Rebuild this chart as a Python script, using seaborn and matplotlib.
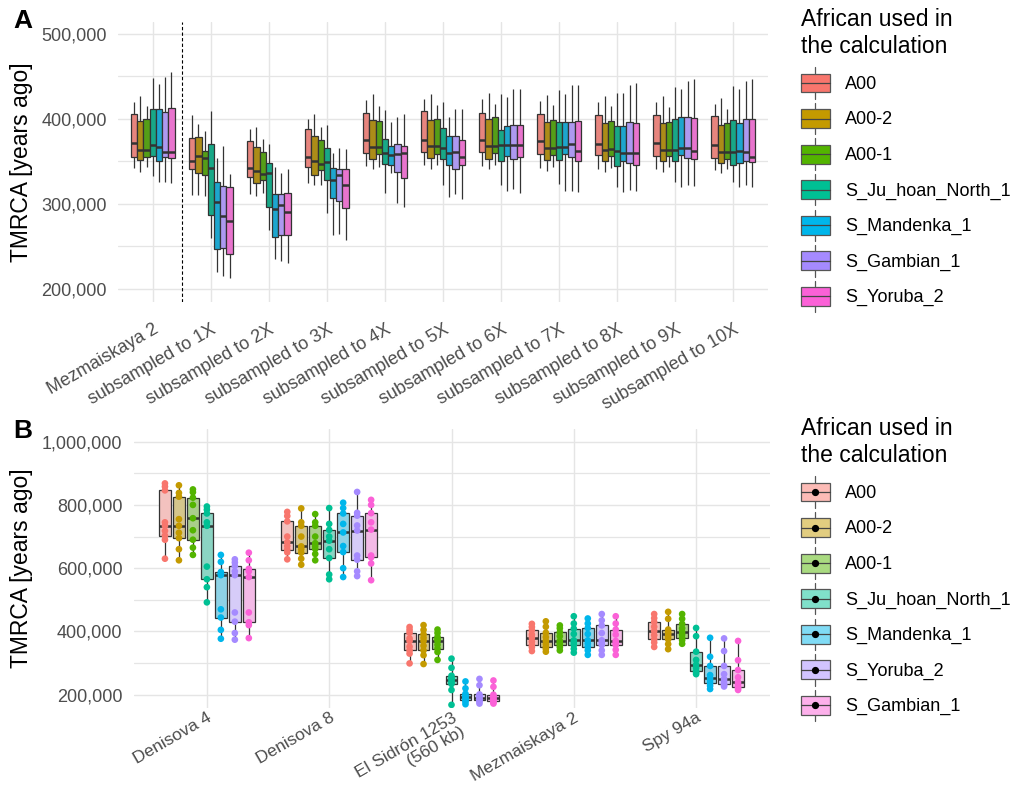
import numpy as np
import pandas as pd
import matplotlib
matplotlib.use("Agg")
import matplotlib.pyplot as plt
import seaborn as sns
from matplotlib.ticker import FuncFormatter, MultipleLocator
from matplotlib.patches import Rectangle, Patch
from matplotlib.lines import Line2D
from matplotlib.legend_handler import HandlerBase
import matplotlib.colors as mcolors

# ---------------- data (thousands of years) ----------------
colors = ["#F8766D", "#C49A00", "#53B400", "#00C094", "#00B6EB", "#A58AFF", "#FB61D7"]

africans_A = ["A00", "A00-2", "A00-1", "S_Ju_hoan_North_1", "S_Mandenka_1", "S_Gambian_1", "S_Yoruba_2"]
africans_B = ["A00", "A00-2", "A00-1", "S_Ju_hoan_North_1", "S_Mandenka_1", "S_Yoruba_2", "S_Gambian_1"]

samples_A = ["Mezmaiskaya 2", "subsampled to 1X", "subsampled to 2X", "subsampled to 3X",
             "subsampled to 4X", "subsampled to 5X", "subsampled to 6X", "subsampled to 7X",
             "subsampled to 8X", "subsampled to 9X", "subsampled to 10X"]
samples_B = ["Denisova 4", "Denisova 8", "El Sidrón 1253\n(560 kb)", "Mezmaiskaya 2", "Spy 94a"]

# Panel A: per sample, per African: [whisker low, Q1, median, Q3, whisker high]
A_mez2 = [[341.6, 355.3, 371.8, 405.1, 420.0], [337.3, 351.0, 362.7, 396.9, 427.1],
          [342.7, 354.9, 362.7, 399.2, 414.9], [332.9, 356.1, 369.0, 411.0, 448.2],
          [325.9, 349.8, 367.1, 411.8, 440.4], [325.9, 354.5, 360.8, 407.5, 448.6],
          [324.7, 353.7, 361.2, 412.5, 454.9]]
A_1x = [[310.2, 340.4, 350.6, 377.6, 404.3], [310.2, 336.5, 356.1, 378.8, 393.7],
        [309.0, 333.3, 353.3, 362.0, 385.9], [260.0, 286.7, 342.4, 370.2, 409.0],
        [220.0, 246.3, 302.4, 325.1, 353.3], [214.9, 247.5, 285.5, 321.2, 368.2],
        [212.5, 240.4, 280.0, 320.0, 334.5]]
A_2x = [[311.0, 331.0, 342.0, 373.3, 387.8], [308.6, 324.3, 338.0, 367.1, 390.2],
        [312.9, 327.5, 334.9, 361.2, 376.5], [269.0, 296.5, 336.5, 348.2, 369.8],
        [234.5, 261.2, 293.7, 311.0, 343.1], [232.9, 262.7, 298.4, 311.0, 336.5],
        [229.8, 262.7, 290.6, 312.2, 340.8]]
A_3x = [[324.7, 342.7, 354.9, 387.8, 399.6], [321.6, 334.1, 349.8, 379.6, 405.5],
        [322.0, 339.2, 346.3, 375.3, 390.6], [288.6, 327.8, 349.0, 365.1, 392.2],
        [262.7, 306.3, 327.8, 342.4, 360.0], [263.9, 302.7, 334.1, 341.2, 365.9],
        [256.9, 294.5, 321.6, 341.2, 364.7]]
A_4x = [[344.3, 360.0, 374.9, 406.7, 422.0], [340.4, 352.2, 367.1, 398.4, 428.6],
        [343.5, 358.4, 367.1, 397.3, 414.9], [312.2, 347.1, 359.6, 376.1, 410.2],
        [335.7, 345.1, 357.6, 368.2, 396.1], [301.2, 336.9, 358.4, 370.6, 402.4],
        [295.7, 330.2, 360.0, 367.8, 405.1]]
A_5x = [[345.9, 360.8, 375.3, 409.0, 422.7], [341.2, 353.3, 367.8, 398.4, 428.6],
        [345.5, 358.8, 367.8, 399.2, 415.7], [322.0, 352.2, 365.5, 388.6, 419.2],
        [308.2, 345.9, 359.2, 379.6, 402.0], [311.4, 340.8, 360.8, 380.0, 411.0],
        [305.9, 345.1, 354.5, 374.9, 411.0]]
A_6x = [[343.9, 360.8, 374.5, 406.3, 422.7], [340.4, 352.2, 367.8, 399.2, 429.8],
        [345.1, 359.2, 368.2, 401.6, 417.6], [321.6, 349.8, 368.6, 386.7, 429.0],
        [314.9, 356.5, 369.0, 391.8, 425.5], [317.3, 352.2, 369.4, 392.9, 434.5],
        [312.9, 354.5, 369.0, 392.2, 434.9]]
A_7x = [[342.4, 358.0, 373.3, 405.5, 421.2], [338.8, 351.0, 365.1, 396.1, 427.5],
        [343.1, 357.3, 365.9, 398.8, 415.7], [323.5, 351.8, 366.3, 395.7, 433.7],
        [314.9, 358.8, 366.3, 396.1, 429.0], [314.5, 354.9, 369.8, 396.5, 439.2],
        [313.7, 350.6, 361.6, 397.6, 439.2]]
A_8x = [[340.8, 357.3, 370.2, 403.9, 419.6], [337.3, 349.8, 362.7, 394.9, 426.7],
        [341.6, 355.7, 364.3, 397.3, 414.5], [320.0, 344.7, 361.6, 391.8, 430.2],
        [313.3, 349.8, 360.0, 391.8, 429.8], [316.5, 348.2, 360.0, 395.7, 439.2],
        [314.5, 345.1, 360.0, 395.3, 441.6]]
A_9x = [[341.2, 356.5, 371.0, 404.7, 420.0], [337.6, 350.2, 363.1, 395.3, 426.7],
        [343.5, 355.7, 363.5, 396.5, 414.1], [325.5, 350.2, 362.7, 399.6, 436.9],
        [320.0, 356.9, 365.9, 402.0, 434.5], [321.6, 354.1, 365.9, 401.6, 444.3],
        [320.4, 352.2, 362.0, 401.2, 447.1]]
A_10x = [[339.6, 353.7, 369.0, 402.7, 417.6], [335.7, 348.2, 361.2, 392.9, 424.7],
         [340.8, 352.5, 361.2, 395.3, 411.8], [325.9, 345.9, 360.8, 398.8, 438.0],
         [319.2, 347.8, 362.4, 395.3, 434.5], [321.6, 350.6, 361.2, 400.0, 443.9],
         [319.2, 349.0, 355.3, 400.0, 447.1]]
panelA_values = [A_mez2, A_1x, A_2x, A_3x, A_4x, A_5x, A_6x, A_7x, A_8x, A_9x, A_10x]

# Panel B: individual estimates per sample, per African
B_den4 = [[630, 690, 703, 718, 734, 745, 846, 858, 868], [625, 660, 695, 712, 734, 755, 826, 838, 862],
          [642, 665, 690, 720, 758, 800, 823, 840, 849], [492, 540, 565, 605, 734, 745, 773, 785, 795],
          [377, 405, 444, 470, 578, 582, 588, 620, 642], [374, 395, 431, 460, 578, 590, 607, 618, 628],
          [379, 420, 429, 460, 572, 590, 598, 625, 649]]
B_den8 = [[628, 650, 659, 670, 682, 700, 748, 765, 778], [611, 630, 649, 660, 669, 700, 734, 745, 789],
          [625, 645, 661, 670, 679, 700, 734, 745, 771], [565, 580, 632, 660, 687, 700, 721, 740, 790],
          [572, 600, 651, 670, 713, 740, 773, 790, 807], [575, 590, 627, 640, 719, 735, 766, 775, 841],
          [562, 615, 634, 640, 722, 745, 774, 800, 816]]
B_elsid = [[299, 330, 340, 352, 370, 378, 396, 405, 414], [297, 325, 340, 355, 370, 380, 391, 405, 420],
           [310, 335, 346, 358, 370, 376, 383, 395, 406], [168, 215, 234, 240, 247, 252, 260, 285, 314],
           [170, 178, 182, 188, 192, 197, 203, 220, 242], [172, 178, 182, 186, 190, 196, 201, 230, 250],
           [172, 176, 180, 185, 189, 195, 200, 225, 245]]
B_mez2 = [[338, 350, 357, 368, 380, 390, 404, 414, 424], [336, 345, 351, 360, 370, 382, 396, 415, 432],
          [340, 350, 357, 364, 370, 385, 398, 410, 419], [333, 345, 357, 365, 372, 392, 409, 425, 448],
          [326, 340, 351, 362, 372, 392, 411, 425, 441], [326, 340, 357, 365, 372, 395, 419, 435, 455],
          [326, 342, 357, 364, 370, 390, 406, 425, 448]]
B_spy = [[351, 365, 375, 388, 401, 415, 430, 442, 455], [344, 360, 375, 383, 391, 398, 406, 440, 462],
         [361, 372, 380, 390, 399, 410, 424, 440, 455], [265, 270, 274, 285, 295, 310, 336, 385, 411],
         [218, 228, 236, 245, 253, 262, 291, 320, 380], [226, 230, 234, 242, 250, 265, 291, 338, 378],
         [215, 220, 224, 232, 239, 255, 278, 309, 370]]
panelB_values = [B_den4, B_den8, B_elsid, B_mez2, B_spy]


def to_frame(samples, africans, values):
    rows = []
    for s, per_sample in zip(samples, values):
        for a, vals in zip(africans, per_sample):
            for v in vals:
                rows.append((s, a, v * 1000.0))
    return pd.DataFrame(rows, columns=["sample", "african", "tmrca"])


dfA = to_frame(samples_A, africans_A, panelA_values)
dfB = to_frame(samples_B, africans_B, panelB_values)

# ---------------- style ----------------
sns.set_theme(style="white")
plt.rcParams["font.family"] = ["Liberation Sans", "DejaVu Sans"]
plt.rcParams["text.color"] = "black"
plt.rcParams["axes.labelcolor"] = "black"

EDGE = "#333333"
GRID = "#E5E5E5"
TICKC = "#4D4D4D"
light = [tuple(0.5 * np.array(mcolors.to_rgb(c)) + 0.5) for c in colors]

W, H = 1016, 799
fig = plt.figure(figsize=(W / 100, H / 100), dpi=100)
axA = fig.add_axes([118 / W, 1 - 301.7 / H, 650 / W, 280 / H])
axB = fig.add_axes([133.5 / W, 1 - 708 / H, 636 / W, 279 / H])

# Panel A
sns.boxplot(data=dfA, x="sample", y="tmrca", hue="african", order=samples_A,
            hue_order=africans_A, palette=colors, width=0.75, gap=0,
            whis=(0, 100), showfliers=False, showcaps=False, linecolor=EDGE,
            linewidth=0.9, medianprops=dict(linewidth=1.8), legend=False, ax=axA)
axA.axvline(0.5, color="black", linestyle=(0, (3, 2)), linewidth=0.8, zorder=5)

# Panel B
sns.boxplot(data=dfB, x="sample", y="tmrca", hue="african", order=samples_B,
            hue_order=africans_B, palette=light, width=0.8, gap=0.15,
            whis=(0, 100), showfliers=False, showcaps=False, linecolor=EDGE,
            linewidth=0.9, medianprops=dict(linewidth=1.8), legend=False, ax=axB)
sns.stripplot(data=dfB, x="sample", y="tmrca", hue="african", order=samples_B,
              hue_order=africans_B, palette=colors, dodge=True, jitter=False,
              size=4.8, linewidth=0, legend=False, zorder=5, ax=axB)


def fmt(v, p):
    return f"{int(round(v)):,}"


for ax, ylim, major, minor, ncat, xpad, xsize in [
    (axA, (184700, 514000), 100000, 50000, len(samples_A), 14, 13),
    (axB, (158000, 1040000), 200000, 100000, len(samples_B), 1.5, 12.5),
]:
    ax.set_xlim(-0.6, ncat - 1 + 0.6)
    ax.set_ylim(*ylim)
    ax.yaxis.set_major_locator(MultipleLocator(major))
    ax.yaxis.set_minor_locator(MultipleLocator(minor))
    ax.yaxis.set_major_formatter(FuncFormatter(fmt))
    ax.grid(True, which="major", axis="both", color=GRID, linewidth=1.0)
    ax.grid(True, which="minor", axis="y", color=GRID, linewidth=0.9)
    ax.set_axisbelow(True)
    for sp in ax.spines.values():
        sp.set_visible(False)
    ax.tick_params(axis="both", which="both", length=0, labelsize=13, labelcolor=TICKC)
    ax.tick_params(axis="y", pad=8)
    ax.tick_params(axis="x", pad=xpad, labelsize=xsize)
    ax.set_xlabel("")
    ax.set_ylabel("TMRCA [years ago]", fontsize=16.5, color="black")
    for lbl in ax.get_xticklabels():
        lbl.set_rotation(30)
        lbl.set_ha("right")
        lbl.set_va("top")
        lbl.set_rotation_mode("anchor")
        lbl.set_multialignment("right")
        lbl.set_linespacing(1.1)

axA.yaxis.set_label_coords((33 - 118) / 650, 0.5)
axB.yaxis.set_label_coords((33 - 133.5) / 636, 0.5)

fig.text(13 / W, 1 - 9 / H, "A", fontsize=19, fontweight="bold", va="top", ha="left", color="black")
fig.text(13 / W, 1 - 419 / H, "B", fontsize=19, fontweight="bold", va="top", ha="left", color="black")


# ---------------- legends ----------------
class BoxKey(HandlerBase):
    def __init__(self, dot=False):
        super().__init__()
        self.dot = dot

    def create_artists(self, legend, orig_handle, xdescent, ydescent, width,
                       height, fontsize, trans):
        x0, y0 = -xdescent, -ydescent
        cx, cy = x0 + width / 2, y0 + height / 2
        bh = height * 0.6
        arts = [
            Line2D([cx, cx], [y0, cy - bh / 2], color="#555555", lw=0.9, transform=trans),
            Line2D([cx, cx], [cy + bh / 2, y0 + height], color="#555555", lw=0.9, transform=trans),
            Rectangle((x0, cy - bh / 2), width, bh, facecolor=orig_handle.get_facecolor(),
                      edgecolor="#555555", lw=0.9, transform=trans),
            Line2D([x0, x0 + width], [cy, cy], color="#444444", lw=0.9, transform=trans),
        ]
        if self.dot:
            arts.append(Line2D([cx], [cy], marker="o", markersize=4.2, color="black",
                               linestyle="none", transform=trans))
        return arts


def add_legend(labels, fills, y_top, dot):
    handles = [Patch(facecolor=c) for c in fills]
    leg = fig.legend(handles, labels, loc="upper left",
                     bbox_to_anchor=(801 / W, 1 - y_top / H),
                     frameon=False, title="African used in\nthe calculation",
                     alignment="left", fontsize=13, title_fontsize=16.5,
                     handlelength=1.6, handleheight=2.3, labelspacing=0.23,
                     handletextpad=0.85, borderpad=0, borderaxespad=0,
                     handler_map={Patch: BoxKey(dot=dot)})
    leg._legend_box.sep = 7
    return leg


add_legend(africans_A, colors, 8, False)
add_legend(africans_B, light, 417, True)

fig.savefig("out.png", dpi=100)
